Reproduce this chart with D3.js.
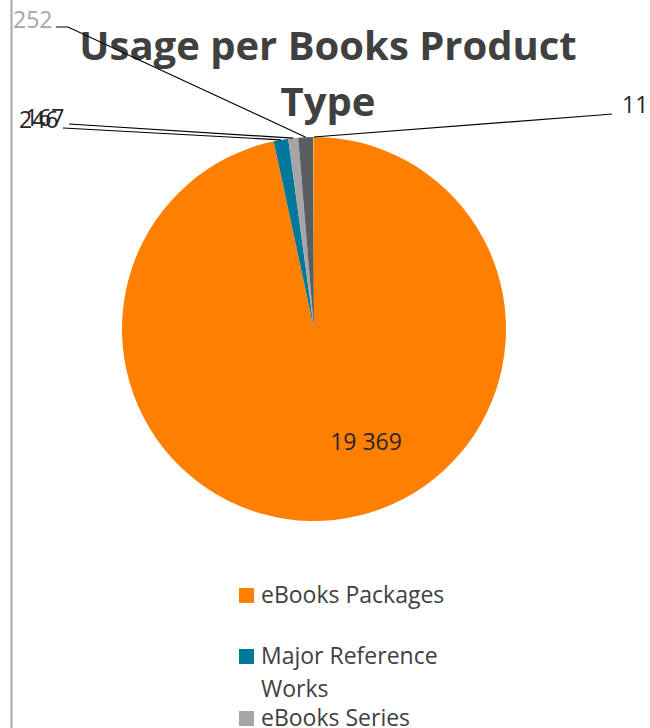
<!DOCTYPE html>
<html>
<head>
<meta charset="utf-8">
<script src="https://cdn.jsdelivr.net/npm/d3@7"></script>
<style>
  html, body { margin: 0; padding: 0; background: #fff; overflow: hidden; }
  svg { display: block; }
</style>
</head>
<body>
<svg id="chart" width="650" height="728"></svg>
<script>
// ---- data ----
const categories = ["eBooks Packages", "Major Reference Works", "eBooks Series", "eBooks Other", "Journals"];
const values = [19369, 246, 167, 252, 11];
const labelTexts = ["19 369", "246", "167", "252", "11"];
const colors = ["#FF8000", "#00789A", "#A6A6A6", "#595C60", "#FFC000"];
const titleLines = ["Usage per Books Product", "Type"];

// ---- layout ----
const W = 650, H = 728;
const cx = 314, cy = 329, R = 192;
const labelLayout = [
  { x: 366, y: 450, anchor: "middle", fill: "#262626", leader: null },
  { x: 19,  y: 128, anchor: "start", fill: "#262626", leader: [[63, 128]] },
  { x: 25,  y: 126, anchor: "start", fill: "#262626", leader: [[69, 124]] },
  { x: 13,  y: 28,  anchor: "start", fill: "#A6A6A6", leader: [[56, 27], [68, 27]] },
  { x: 622, y: 113, anchor: "start", fill: "#262626", leader: [[612, 114], [600, 115]] }
];

const svg = d3.select("#chart");
const font = "'Open Sans', 'DejaVu Sans', sans-serif";

// left border line
svg.append("line")
  .attr("x1", 11.5).attr("x2", 11.5).attr("y1", 0).attr("y2", H)
  .attr("stroke", "#A6A6A6").attr("stroke-width", 2);

// title
svg.append("g").selectAll("text").data(titleLines).join("text")
  .attr("x", 328)
  .attr("y", (d, i) => 60 + i * 56)
  .attr("text-anchor", "middle")
  .attr("font-family", font)
  .attr("font-weight", "bold")
  .attr("font-size", 40)
  .attr("fill", "#404040")
  .text(d => d);

// pie
const pie = d3.pie().sort(null).value(d => d).startAngle(0).endAngle(2 * Math.PI);
const arcs = pie(values);
const arc = d3.arc().innerRadius(0).outerRadius(R);

const g = svg.append("g").attr("transform", `translate(${cx},${cy})`);
g.selectAll("path").data(arcs).join("path")
  .attr("d", arc)
  .attr("fill", (d, i) => colors[i])
  .attr("stroke", "none");

// leader lines
function edgePoint(d, r) {
  const a = (d.startAngle + d.endAngle) / 2;
  return [cx + r * Math.sin(a), cy - r * Math.cos(a)];
}
const line = d3.line();
arcs.forEach((d, i) => {
  const L = labelLayout[i];
  if (!L.leader) return;
  const pts = L.leader.concat([edgePoint(d, R)]);
  svg.append("path")
    .attr("d", line(pts))
    .attr("fill", "none")
    .attr("stroke", "#000")
    .attr("stroke-width", 1.2);
});

// data labels
svg.append("g").selectAll("text").data(arcs).join("text")
  .attr("x", (d, i) => labelLayout[i].x)
  .attr("y", (d, i) => labelLayout[i].y)
  .attr("text-anchor", (d, i) => labelLayout[i].anchor)
  .attr("font-family", font)
  .attr("font-size", 23)
  .attr("fill", (d, i) => labelLayout[i].fill)
  .text((d, i) => labelTexts[i]);

// legend
const legendRows = [
  { lines: ["eBooks Packages"], y: 603 },
  { lines: ["Major Reference", "Works"], y: 664 },
  { lines: ["eBooks Series"], y: 726 },
  { lines: [categories[3]], y: 788 },
  { lines: [categories[4]], y: 850 }
];
const lg = svg.append("g");
categories.forEach((c, i) => {
  const row = legendRows[i];
  lg.append("rect")
    .attr("x", 239).attr("y", row.y - 15)
    .attr("width", 15).attr("height", 15)
    .attr("fill", colors[i]);
  const t = lg.append("text")
    .attr("x", 261).attr("y", row.y)
    .attr("font-family", font)
    .attr("font-size", 23)
    .attr("fill", "#404040");
  row.lines.forEach((ln, j) => {
    t.append("tspan").attr("x", 261).attr("y", row.y + j * 33).text(ln);
  });
});
</script>
</body>
</html>
